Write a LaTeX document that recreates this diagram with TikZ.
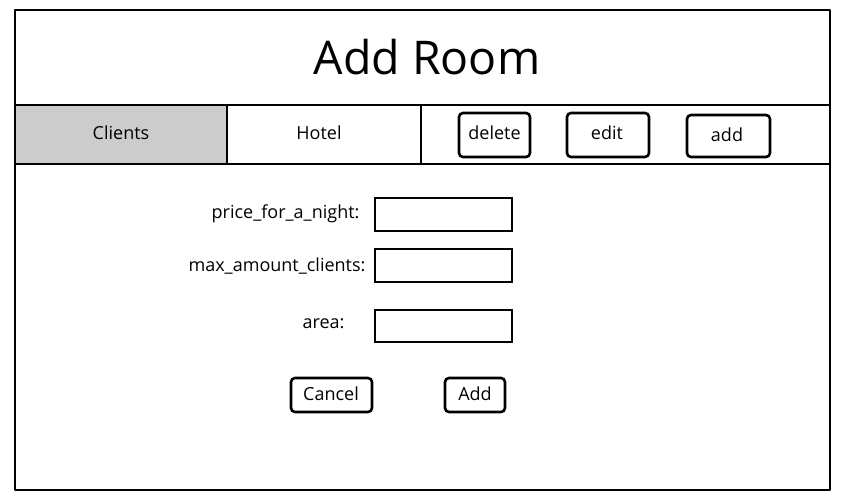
\documentclass[tikz,border=0pt]{standalone}
\usepackage{fontspec}
\setmainfont{Open Sans}
\tikzset{
  frame/.style={draw=black, line width=2.6pt, line join=round},
  btn/.style={draw=black, line width=2.6pt, rounded corners=4pt, fill=white},
  field/.style={draw=black, line width=2.6pt, fill=white},
  lbl/.style={font=\fontsize{18}{20}\selectfont, text=black},
  tabtxt/.style={font=\fontsize{18}{20}\selectfont, text=black},
}
\begin{document}
\begin{tikzpicture}[x=1pt,y=-1pt]
\useasboundingbox (0,0) rectangle (845,498);
% outer frame
\draw[frame] (15,10) rectangle (830,490);
\node[font=\fontsize{46.5}{50}\selectfont] (title) at (427,57) {Add Room};
% tab bar
\draw[frame, fill=white] (15,105) rectangle (830,164);
\draw[frame, fill=black!20] (15,105) rectangle (227,164);
\draw[frame, fill=white] (227,105) rectangle (421,164);
\node[tabtxt] (clients) at (121,133) {Clients};
\node[tabtxt] (hotel) at (319,133) {Hotel};
% top buttons
\draw[btn] (459,113) rectangle (530,157);
\node[tabtxt] (delete) at (494.5,133) {delete};
\draw[btn] (567,113) rectangle (649,157);
\node[tabtxt] (edit) at (607,133) {edit};
\draw[btn] (687,115) rectangle (770,157);
\node[tabtxt] (add) at (727,135) {add};
% form
\node[lbl, anchor=east] (l1) at (363,214) {price\_for\_a\_night:};
\node[lbl, anchor=east] (l2) at (369,266) {max\_amount\_clients:};
\node[lbl, anchor=east] (l3) at (348,324) {area:};
\draw[field] (375,198) rectangle (512,231);
\draw[field] (375,249) rectangle (512,282);
\draw[field] (375,310) rectangle (512,342);
% bottom buttons
\draw[btn] (291,378) rectangle (372,412);
\node[lbl] (cancel) at (331,394) {Cancel};
\draw[btn] (445,378) rectangle (505,412);
\node[lbl] (addb) at (475,394) {Add};
\end{tikzpicture}
\end{document}
